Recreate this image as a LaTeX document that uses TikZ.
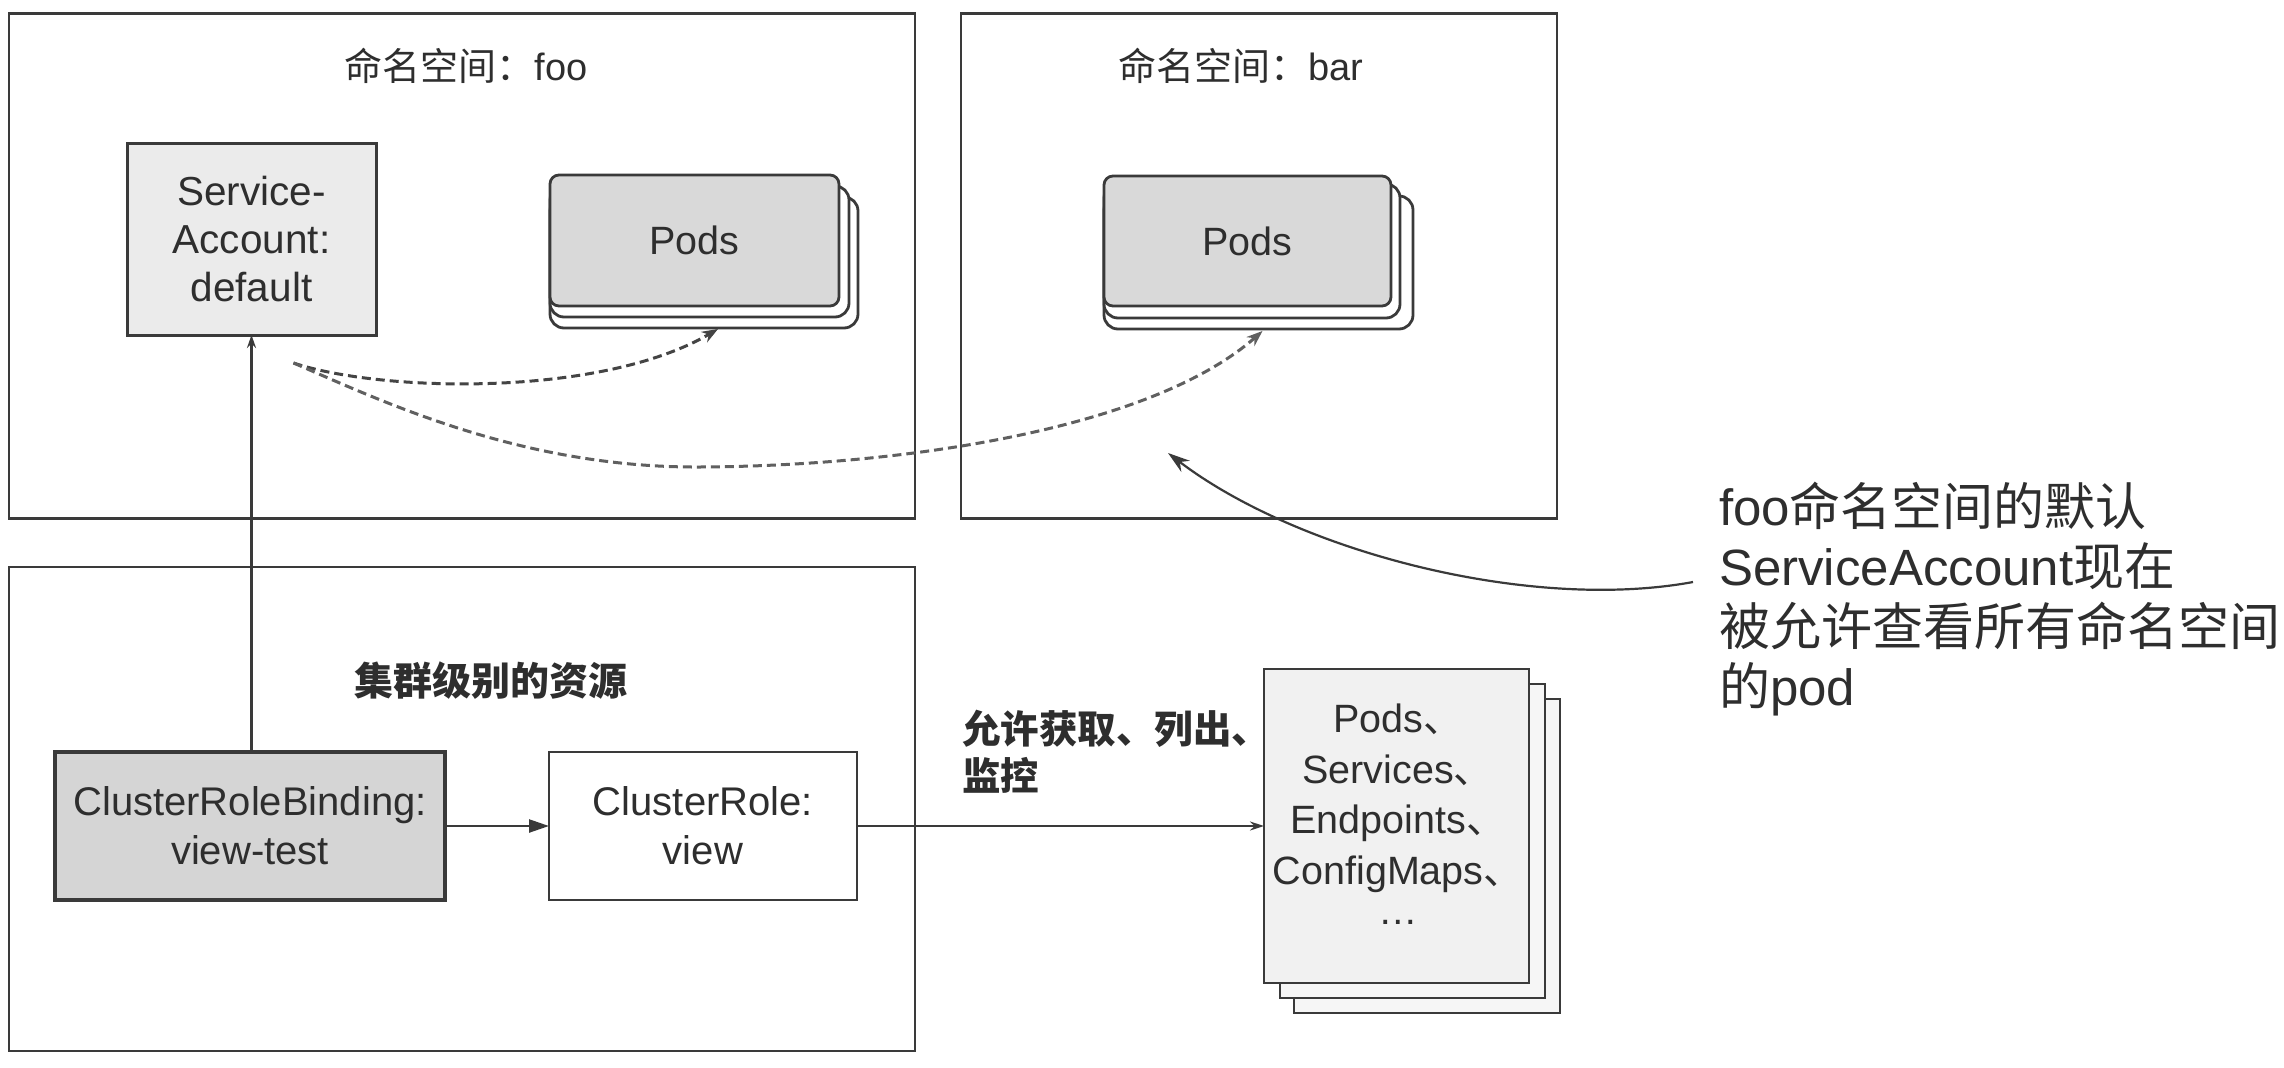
\documentclass[tikz,border=0pt]{standalone}
\usepackage{fontspec}
\setmainfont{Liberation Sans}
\newfontfamily\cjk{Noto Sans CJK SC}
\usetikzlibrary{arrows.meta,calc}
\definecolor{ink}{HTML}{3A3A3A}
\definecolor{txt}{HTML}{2E2E2E}
\definecolor{safill}{HTML}{EBEBEB}
\definecolor{podfill}{HTML}{D9D9D9}
\definecolor{crbfill}{HTML}{D5D5D5}
\definecolor{resfill}{HTML}{F1F1F1}
\definecolor{resback}{HTML}{F6F6F6}
\definecolor{dashc}{HTML}{444444}
\begin{document}
\begin{tikzpicture}[x=1pt,y=-1pt,
  every node/.style={inner sep=0pt, outer sep=0pt, text=txt},
  nsbox/.style={draw=ink, line width=2.6pt, fill=none},
  thing/.style={draw=ink, line width=2.8pt, align=center, font=\fontsize{40}{49}\selectfont},
  podfront/.style={draw=ink, line width=2.8pt, fill=podfill, rounded corners=9pt, font=\fontsize{39.5}{46}\selectfont},
  podback/.style={draw=ink, line width=2.8pt, fill=white, rounded corners=14pt},
  resbox/.style={draw=ink, line width=2.8pt},
  dashline/.style={draw=dashc, line width=3pt, dash pattern=on 9pt off 5pt, -{Stealth[length=16pt,width=12pt]}},
  plainarrow/.style={draw=ink, line width=2.4pt},
  lbl/.style={font=\fontsize{38}{48}\selectfont}
]
\fill[white] (0,0) rectangle (2284,1068);
\useasboundingbox (0,0) rectangle (2284,1068);

% namespace / cluster frames
\node[nsbox, minimum width=906pt, minimum height=505pt] (fooNs) at (462,266) {};
\node[nsbox, minimum width=596pt, minimum height=505pt] (barNs) at (1259,266) {};
\node[nsbox, minimum width=906pt, minimum height=484pt] (clusterNs) at (462,809) {};

\node[lbl] (fooLbl) at (466,66) {{\cjk 命名空间：}foo};
\node[lbl] (barLbl) at (1241,66) {{\cjk 命名空间：}bar};
\node[lbl, font=\fontsize{39}{48}\selectfont\cjk\bfseries] (clLbl) at (491,681) {集群级别的资源};

% ServiceAccount
\node[thing, fill=safill, line width=3pt, minimum width=249pt, minimum height=192pt, font=\fontsize{40.5}{48}\selectfont] (sa) at (251.5,239)
  {Service-\\Account:\\default};

% Pods in foo
\node[podback, minimum width=308pt, minimum height=131pt] (fpb2) at (704,262.5) {};
\node[podback, minimum width=299pt, minimum height=131pt] (fpb1) at (699.5,251.5) {};
\node[podfront, minimum width=289pt, minimum height=131pt] (fp) at (694.5,240.5) {Pods};

% Pods in bar
\node[podback, minimum width=309pt, minimum height=133pt] (bpb2) at (1258.5,262.5) {};
\node[podback, minimum width=296pt, minimum height=134pt] (bpb1) at (1252,251) {};
\node[podfront, minimum width=287pt, minimum height=130pt] (bp) at (1247.5,241) {Pods};

% cluster level
\node[thing, fill=crbfill, line width=3.6pt, minimum width=390pt, minimum height=148pt] (crb) at (250,826)
  {ClusterRoleBinding:\\view-test};
\node[thing, fill=white, minimum width=308pt, minimum height=148pt] (cr) at (703,826)
  {ClusterRole:\\view};

% resources stack
\node[resbox, fill=resback, minimum width=266pt, minimum height=314pt] (rb2) at (1427,856) {};
\node[resbox, fill=resback, minimum width=265pt, minimum height=314pt] (rb1) at (1412.5,841) {};
\node[resbox, fill=resfill, minimum width=265pt, minimum height=314pt] (res) at (1396.5,826) {};
\node[align=center, font=\fontsize{39.5}{50.5}\selectfont] (resTxt) at (1398,814.5)
  {Pods{\cjk 、}\\Services{\cjk 、}\\Endpoints{\cjk 、}\\ConfigMaps{\cjk 、}\\[-10pt]…};

% label on the arrow
\node[anchor=north west, align=left, font=\fontsize{38.5}{47}\selectfont\cjk\bfseries] (verbs) at (962,710)
  {允许获取、列出、\\监控};

% annotation
\node[anchor=north west, align=left, font=\fontsize{51}{60}\selectfont] (note) at (1719,482)
  {foo{\cjk 命名空间的默认}\\ServiceAccount{\cjk 现在}\\{\cjk 被允许查看所有命名空间}\\{\cjk 的}pod};

% connectors
\draw[plainarrow, -{Stealth[length=13pt,width=9pt]}] (crb.north -| sa.south) -- (sa.south);
\draw[plainarrow, -{Triangle[length=20pt,width=13pt]}] (crb.east) -- (cr.west);
\draw[plainarrow, line width=2pt, -{Stealth[length=14pt,width=9pt]}] (cr.east) -- (res.west);

\coordinate (ds) at ($(sa.south)+(42,28)$);
\coordinate (fEnd) at ($(fpb2.south)+(14,1)$);
\coordinate (bEnd) at ($(bpb2.south)+(4,2)$);
\draw[dashline] (ds) .. controls (380,392) and (600,398) .. (fEnd);
\draw[dashline, draw=dashc!85] (ds) .. controls (380,400) and (520,468) .. (700,467)
   .. controls (900,466) and (1150,430) .. (bEnd);

\coordinate (noteStart) at ($(note.west)+(-26,-17)$);
\coordinate (barTip) at (1168,453);
\draw[draw=ink, line width=2.2pt, -{Stealth[length=22pt,width=14pt]}] (noteStart) .. controls (1530,612) and (1298,552) .. (barTip);
\end{tikzpicture}
\end{document}
